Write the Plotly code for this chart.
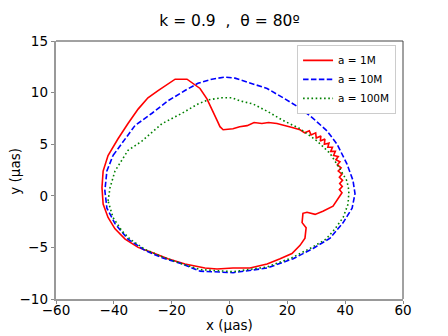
import plotly.graph_objects as go

# a = 1M
x_1m = [-44.1, -43.7, -42.0, -39.6, -36.1, -31.6, -26.8, -21.3, -15.4, -8.5, -4.3, 1.2, 7.1,
        13.0, 17.5, 21.6, 24.4, 26.1, 26.5, 25.1, 25.4, 26.8, 29.6, 32.3, 35.8, 37.5,
        38.9, 38.0, 39.0, 38.1, 39.1, 38.0, 38.9, 37.6, 38.6, 37.3, 38.2, 36.8, 37.6, 36.0,
        36.6, 35.0, 35.6, 34.0, 34.4, 32.8, 33.0, 31.4, 31.6, 30.0, 29.8, 28.2, 27.6, 26.0,
        24.4, 22.0, 19.0, 16.4, 13.5, 11.2, 8.5, 6.1, 3.5, 1.2, -2.2, -3.3, -4.3, -6.1,
        -7.8, -10.2, -12.6, -14.7, -18.8, -21.6, -24.7, -28.2, -31.6, -35.1, -38.6, -42.0,
        -43.7, -44.1]
y_1m = [0.8, -0.8, -2.1, -3.2, -4.2, -5.0, -5.5, -6.1, -6.6, -7.0, -7.1, -7.0, -7.0,
        -6.6, -6.1, -5.6, -4.8, -4.1, -3.1, -2.6, -1.7, -1.6, -1.8, -1.5, -1.0, -0.3,
        0.3, 0.6, 0.9, 1.2, 1.5, 1.8, 2.1, 2.4, 2.7, 3.0, 3.3, 3.5, 3.8, 3.9,
        4.3, 4.3, 4.7, 4.7, 5.1, 5.0, 5.5, 5.3, 5.8, 5.6, 6.1, 5.9, 6.3, 6.1,
        6.4, 6.6, 6.8, 7.0, 7.1, 7.0, 7.1, 6.8, 6.7, 6.5, 6.4, 6.7, 7.3, 8.4,
        9.4, 10.4, 10.9, 11.3, 11.3, 10.8, 10.2, 9.5, 8.4, 7.0, 5.5, 3.9,
        2.4, 0.8]

# a = 10M
x_10m = [-40.3, -37.2, -32.7, -26.8, -21.3, -15.4, -10.9, -6.1, -1.6, 1.9, 7.1, 13.0, 18.5,
         24.4, 28.9, 33.7, 37.2, 40.6, 42.7, 43.4, 43.4, 42.4, 39.3, 34.8, 28.9, 22.0,
         13.0, 1.2, -10.2, -16.4, -23.3, -29.2, -35.1, -39.6, -42.4, -43.1, -42.4, -40.3]
y_10m = [3.9, 5.1, 6.8, 8.0, 9.2, 10.2, 10.9, 11.3, 11.5, 11.4, 10.9, 10.4, 9.5,
         8.5, 7.5, 6.3, 5.0, 3.1, 1.5, 0.5, 0.2, -1.2, -2.6, -4.1, -5.1, -6.1,
         -7.0, -7.45, -7.3, -6.6, -6.0, -5.3, -4.2, -2.7, -1.2, 0.5, 2.4, 3.9]

# a = 100M
x_100m = [-42.0, -41.3, -39.6, -35.1, -30.3, -23.3, -16.4, -10.9, -7.4, -2.6, 0.9, 3.6,
          8.1, 13.0, 18.5, 24.4, 30.3, 34.8, 38.2, 40.6, 41.3, 41.0, 39.3, 36.5, 33.4,
          28.5, 21.6, 13.0, 1.2, -10.2, -16.4, -23.3, -29.2, -34.4, -37.2, -40.3, -42.0]
y_100m = [-0.5, 0.8, 2.4, 4.4, 5.3, 7.0, 8.0, 8.9, 9.3, 9.5, 9.5, 9.2,
          8.9, 8.2, 7.3, 6.5, 5.3, 4.1, 2.6, 1.45, 0.5, -0.8, -2.1, -3.2, -4.2,
          -5.0, -6.0, -6.9, -7.35, -7.15, -6.6, -5.9, -5.2, -4.2, -3.4, -2.1, -0.5]

x_ticks = [-60, -40, -20, 0, 20, 40, 60]
y_ticks = [-10, -5, 0, 5, 10, 15]

font_name = "DejaVu Sans"

fig = go.Figure()
fig.add_trace(go.Scatter(x=x_1m, y=y_1m, mode='lines', name='a = 1M',
                         line=dict(color='red', width=1.6)))
fig.add_trace(go.Scatter(x=x_10m, y=y_10m, mode='lines', name='a = 10M',
                         line=dict(color='blue', width=1.6, dash='5.5px,2.4px')))
fig.add_trace(go.Scatter(x=x_100m, y=y_100m, mode='lines', name='a = 100M',
                         line=dict(color='green', width=1.6, dash='1.6px,2.6px')))

# left/bottom spines look lighter than top/right in the original
axis_style = dict(showgrid=False, zeroline=False, showline=True, mirror=False,
                  linecolor='#999999', linewidth=1.6, ticks='outside', ticklen=3.5,
                  tickcolor='#888888', automargin=False,
                  tickfont=dict(family=font_name, size=13.5, color='black'))

fig.update_xaxes(range=[-60, 60], tickvals=x_ticks, ticklabelstandoff=-6, **axis_style)
fig.update_yaxes(range=[-10, 15], tickvals=y_ticks, **axis_style)

# top and right spines
fig.add_shape(type='line', xref='paper', yref='paper', x0=0, x1=1, y0=1, y1=1,
              line=dict(color='#444444', width=1))
fig.add_shape(type='line', xref='paper', yref='paper', x0=1, x1=1, y0=0, y1=1,
              line=dict(color='#444444', width=1))

# axis titles
title_font = dict(family=font_name, size=13.5, color='black')
fig.add_annotation(text='x (µas)', xref='paper', yref='paper', x=0.5, y=-0.102,
                   xanchor='center', yanchor='middle', showarrow=False, font=title_font)
fig.add_annotation(text='y (µas)', xref='paper', yref='paper', x=-0.117, y=0.495,
                   xanchor='center', yanchor='middle', showarrow=False, textangle=-90,
                   font=title_font)

# the page has an 8px body margin, so the figure is 8px smaller than the window
fig.update_layout(
    width=440, height=328,
    margin=dict(l=48, r=45, t=33, b=37),
    paper_bgcolor='white', plot_bgcolor='white',
    font=dict(family=font_name, color='black'),
    title=dict(text='k = 0.9  ,  θ = 80º', x=0.5, xref='paper', y=0.963, yanchor='middle',
               font=dict(family=font_name, size=15.5, color='black')),
    showlegend=True,
    legend=dict(x=0.98, y=0.985, xanchor='right', yanchor='top',
                bgcolor='white', bordercolor='#cccccc', borderwidth=1,
                font=dict(family=font_name, size=10.5, color='black'),
                tracegroupgap=0, itemwidth=30),
)

fig.write_html("out.html")
